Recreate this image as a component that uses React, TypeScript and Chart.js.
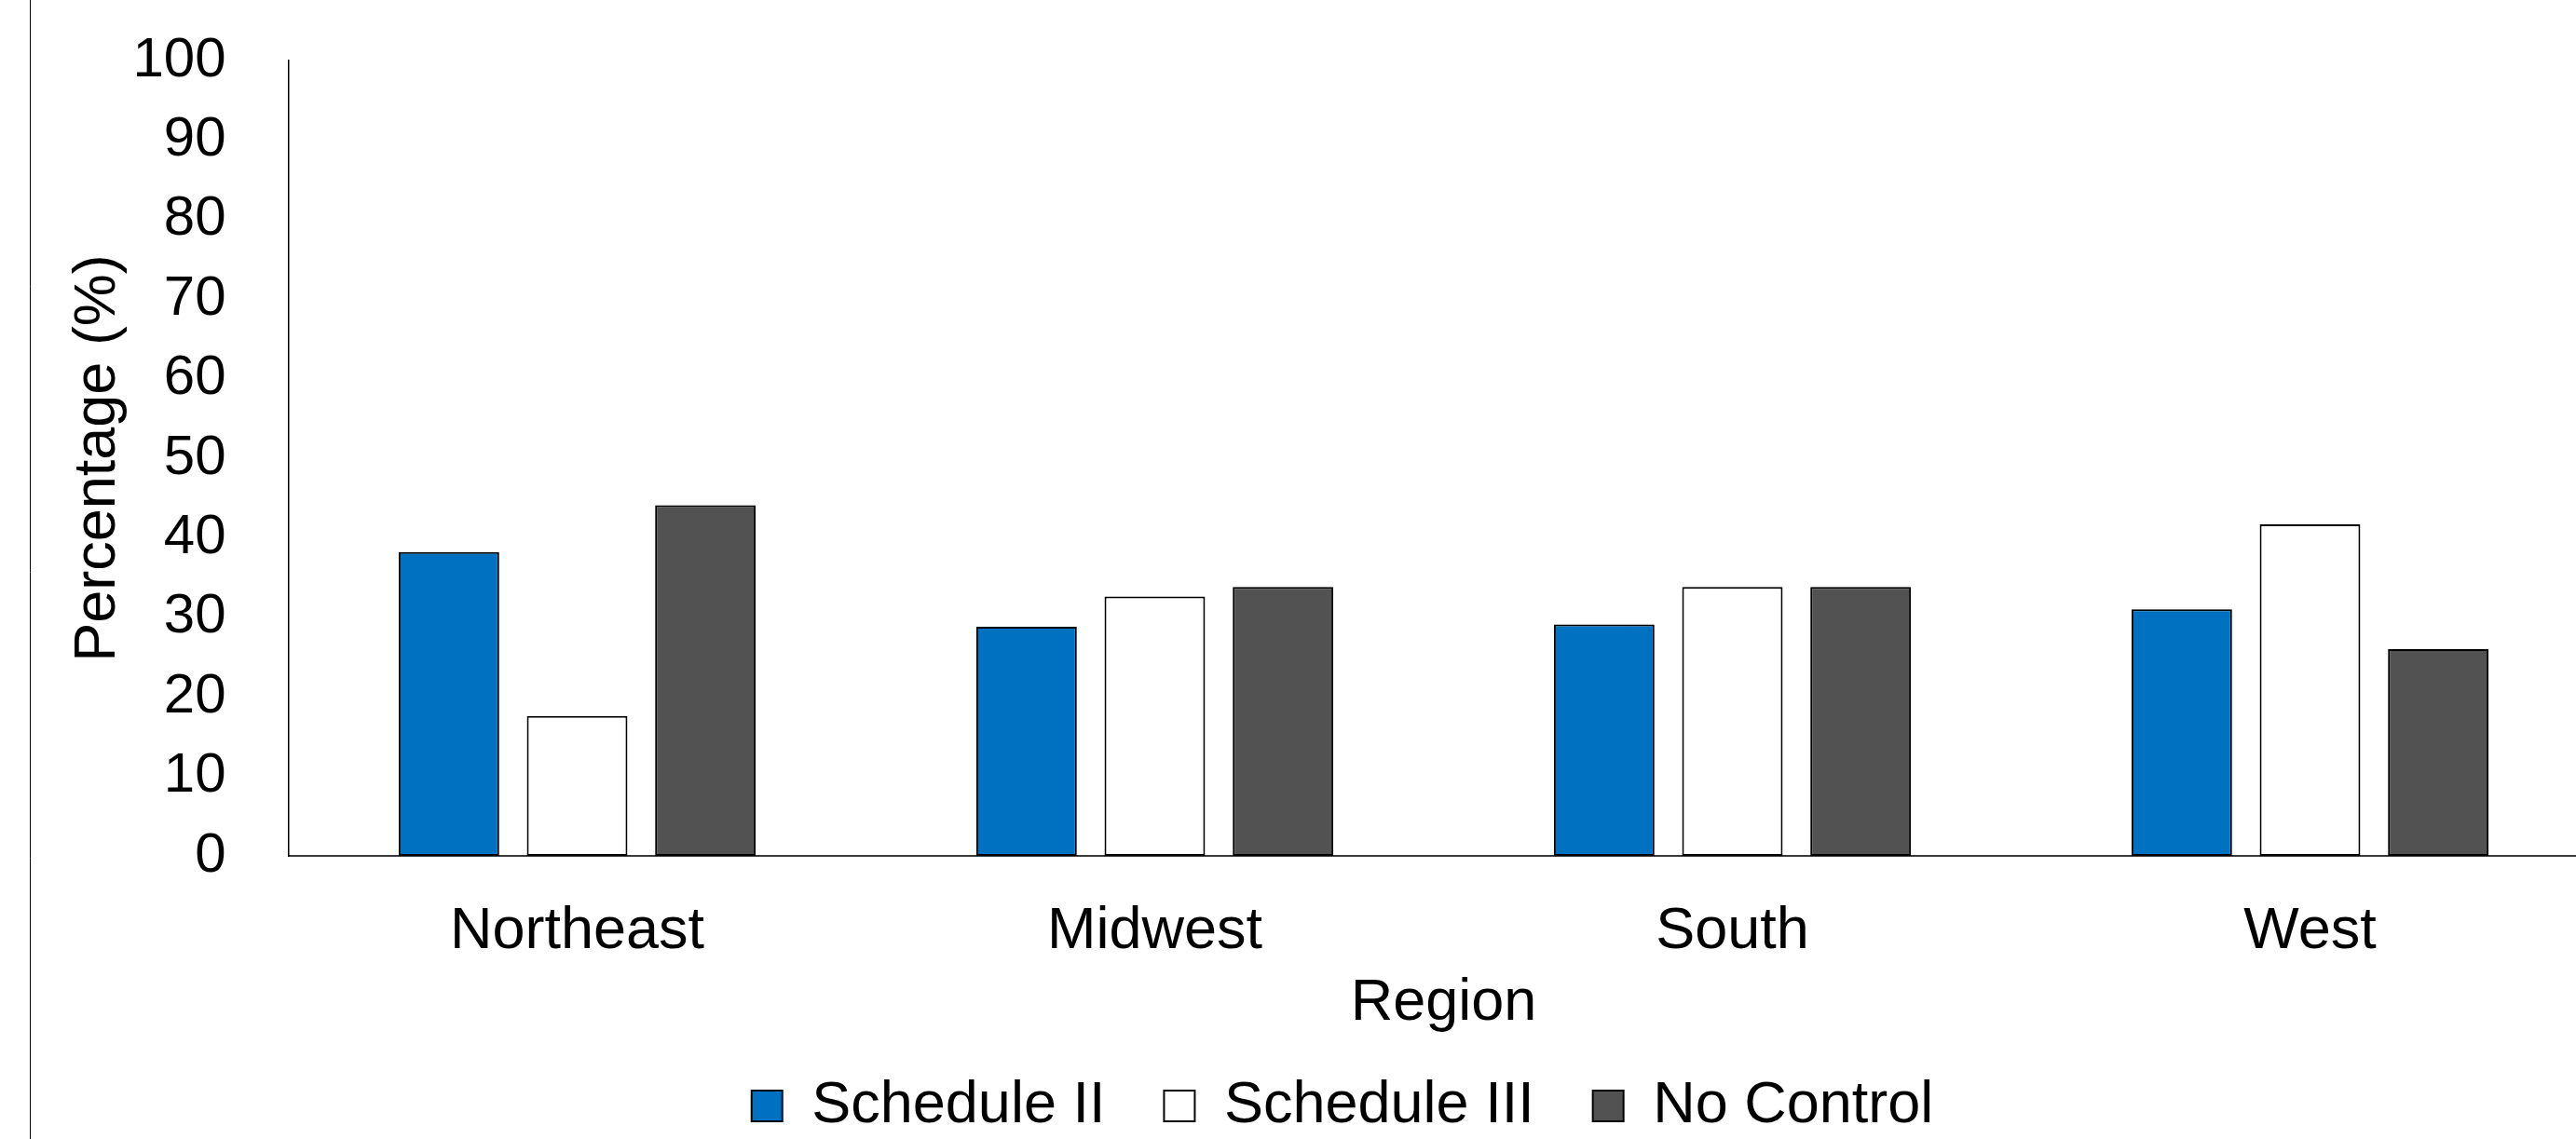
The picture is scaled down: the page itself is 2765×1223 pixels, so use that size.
import React, { useEffect, useRef } from 'react';
import { Chart, registerables } from 'chart.js';

Chart.register(...registerables);

// ---- data ----
const categories = ['Northeast', 'Midwest', 'South', 'West'];
const seriesNames = ['Schedule II', 'Schedule III', 'No Control'];
const scheduleII = [38.2, 28.8, 29.1, 31.0];
const scheduleIII = [17.6, 32.6, 33.8, 41.7];
const noControl = [44.1, 33.8, 33.8, 26.0];
const yMin = 0;
const yMax = 100;
const yStep = 10;
const xTitle = 'Region';
const yTitle = 'Percentage (%)';

// ---- style ----
const FONT = '"Liberation Sans", Arial, Helvetica, sans-serif';
const COLORS = ['#0070C0', '#FFFFFF', '#525252'];
const CANVAS_W = 2850;
const CANVAS_H = 1229;

const chartBorder = {
  id: 'chartBorder',
  beforeDraw(chart: any) {
    const { ctx } = chart;
    ctx.save();
    ctx.fillStyle = '#ffffff';
    ctx.fillRect(0, 0, chart.width, chart.height);
    ctx.strokeStyle = '#000000';
    ctx.lineWidth = 1;
    ctx.beginPath();
    ctx.moveTo(32.5, 0);
    ctx.lineTo(32.5, chart.height);
    ctx.stroke();
    ctx.restore();
  },
};

export default function App() {
  const canvasRef = useRef<HTMLCanvasElement | null>(null);

  useEffect(() => {
    if (!canvasRef.current) return;
    const values = [scheduleII, scheduleIII, noControl];
    const chart = new Chart(canvasRef.current, {
      type: 'bar',
      data: {
        labels: categories,
        datasets: seriesNames.map((name, i) => ({
          label: name,
          data: values[i],
          backgroundColor: COLORS[i],
          borderColor: '#000000',
          borderWidth: 2,
          borderSkipped: false,
          categoryPercentage: 0.666,
          barPercentage: 0.784,
        })),
      },
      options: {
        responsive: false,
        maintainAspectRatio: false,
        animation: false,
        devicePixelRatio: 1,
        layout: { padding: { left: 32, right: 0, top: 65, bottom: 0 } },
        plugins: {
          title: { display: false },
          tooltip: { enabled: false },
          legend: {
            display: true,
            position: 'bottom',
            labels: {
              boxWidth: 33,
              boxHeight: 33,
              padding: 63,
              color: '#000000',
              font: { family: FONT, size: 63 },
            },
          },
        },
        scales: {
          x: {
            type: 'category',
            grid: { display: false },
            border: { display: true, color: '#3a3a3a', width: 2 },
            ticks: {
              color: '#000000',
              font: { family: FONT, size: 63 },
              padding: 36,
              maxRotation: 0,
              autoSkip: false,
            },
            title: {
              display: true,
              text: xTitle,
              color: '#000000',
              font: { family: FONT, size: 63 },
              padding: { top: 0, bottom: -22 },
            },
            afterFit(scale: any) {
              scale.height = 174;
              scale.paddingLeft = 0;
              scale.paddingRight = 0;
            },
          },
          y: {
            type: 'linear',
            position: 'left',
            min: yMin,
            max: yMax,
            grid: { display: false },
            border: { display: true, color: '#000000', width: 1.5 },
            ticks: {
              stepSize: yStep,
              color: '#000000',
              font: { family: FONT, size: 60 },
              padding: 59,
            },
            title: {
              display: true,
              text: yTitle,
              color: '#000000',
              font: { family: FONT, size: 63 },
              padding: { top: 36, bottom: 0 },
            },
            afterFit(scale: any) {
              scale.width = 277.5;
              scale.paddingTop = 0;
              scale.paddingBottom = 0;
            },
          },
          yr: {
            type: 'linear',
            position: 'right',
            display: true,
            grid: { display: false },
            border: { display: false },
            ticks: { display: false },
            afterFit(scale: any) {
              scale.width = 60.5;
              scale.paddingTop = 0;
              scale.paddingBottom = 0;
            },
          },
        },
      },
      plugins: [chartBorder],
    } as any);
    return () => chart.destroy();
  }, []);

  return (
    <div
      style={{
        position: 'fixed',
        left: 0,
        top: 0,
        width: 2765,
        height: 1223,
        overflow: 'hidden',
        background: '#ffffff',
      }}
    >
      <canvas
        ref={canvasRef}
        width={CANVAS_W}
        height={CANVAS_H}
        style={{ position: 'absolute', left: 0, top: 0, width: CANVAS_W, height: CANVAS_H }}
      />
    </div>
  );
}
